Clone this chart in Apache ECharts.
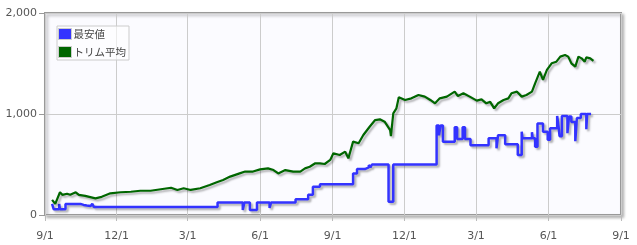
<!DOCTYPE html>
<html><head><meta charset="utf-8">
<script src="https://cdn.jsdelivr.net/npm/echarts@6/dist/echarts.min.js"></script>
<style>html,body{margin:0;padding:0;background:#fff}#c{width:637px;height:245px}</style>
</head><body><div id="c"></div>
<script>
var seriesNames = ['最安値', 'トリム平均'];
var xTicks = ['2022-09-01','2022-12-01','2023-03-01','2023-06-01','2023-09-01','2023-12-01','2024-03-01','2024-06-01','2024-09-01'];
var yTicks = [0, 1000, 2000];

var minDates = ['2022-09-10','2022-09-12','2022-09-19','2022-09-20','2022-09-27','2022-10-16','2022-10-20','2022-10-24','2022-10-29','2022-10-31','2022-11-02','2022-11-06','2023-02-26','2023-02-28','2023-04-08','2023-05-10','2023-05-12','2023-05-19','2023-05-28','2023-06-13','2023-06-15','2023-07-16','2023-08-01','2023-08-07','2023-08-16','2023-09-27','2023-10-02','2023-10-12','2023-10-17','2023-10-19','2023-10-21','2023-11-11','2023-11-17','2024-01-11','2024-01-14','2024-01-16','2024-01-19','2024-02-03','2024-02-06','2024-02-13','2024-02-16','2024-02-23','2024-03-17','2024-03-27','2024-03-29','2024-04-07','2024-04-23','2024-04-28','2024-04-29','2024-05-11','2024-05-12','2024-05-15','2024-05-18','2024-05-25','2024-05-31','2024-06-03','2024-06-12','2024-06-14','2024-06-15','2024-06-18','2024-06-25','2024-06-27','2024-06-30','2024-07-05','2024-07-07','2024-07-12','2024-07-19','2024-07-20','2024-07-25'];
var minValues = [110,57,110,57,110,100,95,90,85,110,80,78,85,80,125,50,125,50,125,70,125,155,200,280,305,412,455,472,495,472,500,130,500,885,790,885,725,870,752,870,752,690,760,660,790,700,595,825,760,820,760,676,905,825,745,860,980,860,780,980,810,975,920,730,960,1000,850,1000,1000];

var trimDates = ['2022-09-10','2022-09-14','2022-09-20','2022-09-23','2022-09-29','2022-10-03','2022-10-10','2022-10-14','2022-10-22','2022-11-04','2022-11-12','2022-11-23','2022-12-06','2022-12-19','2022-12-31','2023-01-13','2023-01-26','2023-02-08','2023-02-16','2023-02-24','2023-03-05','2023-03-17','2023-03-29','2023-04-07','2023-04-15','2023-04-24','2023-05-06','2023-05-13','2023-05-23','2023-06-01','2023-06-11','2023-06-18','2023-06-24','2023-07-03','2023-07-13','2023-07-22','2023-07-28','2023-08-03','2023-08-10','2023-08-16','2023-08-22','2023-08-29','2023-09-02','2023-09-04','2023-09-10','2023-09-17','2023-09-21','2023-09-27','2023-10-04','2023-10-10','2023-10-18','2023-10-25','2023-10-31','2023-11-06','2023-11-13','2023-11-14','2023-11-17','2023-11-21','2023-11-24','2023-12-02','2023-12-10','2023-12-19','2023-12-27','2024-01-03','2024-01-09','2024-01-15','2024-01-24','2024-02-03','2024-02-07','2024-02-14','2024-02-22','2024-03-02','2024-03-04','2024-03-08','2024-03-14','2024-03-19','2024-03-24','2024-03-29','2024-04-05','2024-04-11','2024-04-15','2024-04-22','2024-04-28','2024-05-04','2024-05-11','2024-05-15','2024-05-21','2024-05-25','2024-05-30','2024-06-05','2024-06-11','2024-06-16','2024-06-22','2024-06-26','2024-06-30','2024-07-05','2024-07-09','2024-07-13','2024-07-17','2024-07-19','2024-07-24','2024-07-28'];
var trimValues = [150,110,225,200,210,200,225,200,190,165,180,215,225,230,240,240,255,270,248,265,248,265,297,324,347,380,412,430,430,452,462,445,412,445,430,430,462,478,512,512,505,545,611,617,594,627,561,726,710,792,874,940,947,924,841,782,1007,1056,1165,1139,1155,1188,1172,1139,1106,1155,1172,1221,1178,1205,1172,1132,1122,1145,1106,1120,1056,1106,1139,1155,1205,1221,1172,1188,1221,1304,1419,1337,1436,1502,1518,1568,1584,1568,1502,1469,1568,1551,1518,1560,1551,1527];

// day number (UTC) for a YYYY-MM-DD string
function dayNum(s) { var p = s.split('-'); return Date.UTC(+p[0], +p[1] - 1, +p[2]) / 86400000; }
function zip(a, b) { return a.map(function (d, i) { return [dayNum(d), b[i]]; }); }
var tickDays = xTicks.map(dayNum);
function dayLabel(v) { var d = new Date(Math.round(v) * 86400000); return (d.getUTCMonth() + 1) + '/' + d.getUTCDate(); }

var chart = echarts.init(document.getElementById('c'), null, { renderer: 'canvas' });
var fontFam = '"DejaVu Sans", Verdana, sans-serif';
chart.setOption({
  animation: false,
  backgroundColor: '#fff',
  grid: {
    left: 45, right: 16, top: 13, bottom: 30,
    show: true, backgroundColor: '#fbfbff', borderColor: '#999', borderWidth: 2,
    shadowColor: 'rgba(0,0,0,0.25)', shadowBlur: 3, shadowOffsetX: 2, shadowOffsetY: 2
  },
  legend: {
    orient: 'vertical', left: 57, top: 26,
    data: seriesNames,
    borderColor: '#ccc', borderWidth: 1, padding: [2, 3, 2, 1], itemGap: 6,
    itemWidth: 13, itemHeight: 11, icon: 'rect',
    itemStyle: { borderColor: '#ccc', borderWidth: 1 },
    backgroundColor: 'rgba(255,255,255,0.6)',
    textStyle: { fontSize: 10.5, color: '#444', fontFamily: '"Noto Sans CJK JP", sans-serif', padding: [0, 0, 0, -3] }
  },
  xAxis: {
    type: 'value',
    min: tickDays[0], max: tickDays[tickDays.length - 1],
    axisLine: { show: false },
    axisTick: { show: true, customValues: tickDays, length: 6, lineStyle: { color: '#bbb' } },
    axisLabel: {
      customValues: tickDays, margin: 16, color: '#555', fontSize: 11, fontFamily: fontFam,
      formatter: dayLabel
    },
    splitLine: { show: true, lineStyle: { color: '#ccc', width: 1 } }
  },
  yAxis: {
    type: 'value', min: yTicks[0], max: yTicks[yTicks.length - 1], interval: 1000,
    axisLine: { show: false },
    axisTick: { show: true, length: 6, lineStyle: { color: '#999' } },
    axisLabel: { margin: 8, color: '#555', fontSize: 11, fontFamily: fontFam },
    splitLine: { show: true, lineStyle: { color: '#ccc', width: 1 } }
  },
  series: [
    {
      name: seriesNames[0], type: 'line', step: 'end', showSymbol: false, symbol: 'none',
      data: zip(minDates, minValues),
      itemStyle: { color: '#3333ff' },
      lineStyle: { color: '#3333ff', width: 2.5, shadowColor: 'rgba(0,0,0,0.3)', shadowBlur: 2, shadowOffsetX: 2, shadowOffsetY: 2 }
    },
    {
      name: seriesNames[1], type: 'line', showSymbol: false, symbol: 'none',
      data: zip(trimDates, trimValues),
      itemStyle: { color: '#006600' },
      lineStyle: { color: '#006600', width: 2.2, shadowColor: 'rgba(0,0,0,0.3)', shadowBlur: 2, shadowOffsetX: 2, shadowOffsetY: 2 }
    }
  ]
});
</script></body></html>
